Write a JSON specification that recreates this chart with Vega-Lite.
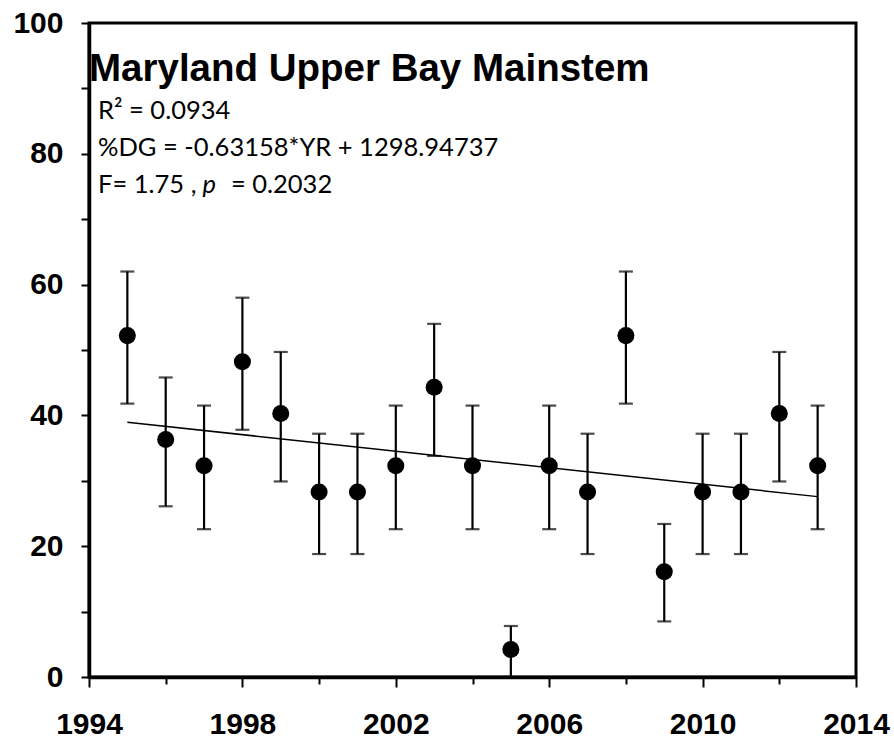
{
  "$schema": "https://vega.github.io/schema/vega-lite/v6.json",
  "width": 767,
  "height": 654,
  "autosize": "none",
  "padding": {"left": 89, "top": 23, "right": 38, "bottom": 61},
  "background": "white",
  "config": {
    "view": {"stroke": "black", "strokeWidth": 3},
    "axis": {
      "grid": false,
      "domainColor": "black",
      "domainWidth": 3.5,
      "tickColor": "black",
      "tickWidth": 2,
      "labelFont": "Liberation Sans",
      "labelFontWeight": "bold",
      "labelFontSize": 30,
      "labelColor": "black",
      "title": null
    }
  },
  "datasets": {
    "pts": [
      {"year": 1995, "val": 52.2, "hi": 62.0, "lo": 41.8},
      {"year": 1996, "val": 36.3, "hi": 45.8, "lo": 26.1},
      {"year": 1997, "val": 32.3, "hi": 41.5, "lo": 22.6},
      {"year": 1998, "val": 48.2, "hi": 58.0, "lo": 37.8},
      {"year": 1999, "val": 40.3, "hi": 49.7, "lo": 29.9},
      {"year": 2000, "val": 28.3, "hi": 37.2, "lo": 18.8},
      {"year": 2001, "val": 28.3, "hi": 37.2, "lo": 18.8},
      {"year": 2002, "val": 32.3, "hi": 41.5, "lo": 22.6},
      {"year": 2003, "val": 44.3, "hi": 54.0, "lo": 33.8},
      {"year": 2004, "val": 32.3, "hi": 41.5, "lo": 22.6},
      {"year": 2005, "val": 4.2, "hi": 7.8, "lo": 0},
      {"year": 2006, "val": 32.3, "hi": 41.5, "lo": 22.6},
      {"year": 2007, "val": 28.3, "hi": 37.2, "lo": 18.8},
      {"year": 2008, "val": 52.2, "hi": 62.0, "lo": 41.8},
      {"year": 2009, "val": 16.1, "hi": 23.4, "lo": 8.5},
      {"year": 2010, "val": 28.3, "hi": 37.2, "lo": 18.8},
      {"year": 2011, "val": 28.3, "hi": 37.2, "lo": 18.8},
      {"year": 2012, "val": 40.3, "hi": 49.7, "lo": 29.9},
      {"year": 2013, "val": 32.3, "hi": 41.5, "lo": 22.6}
    ],
    "fit": [
      {"year": 1995, "fit": 38.95},
      {"year": 2013, "fit": 27.58}
    ],
    "one": [{}]
  },
  "layer": [
    {
      "data": {"name": "pts"},
      "mark": {"type": "errorbar", "color": "black", "thickness": 2.2, "ticks": {"size": 14, "thickness": 2.2, "color": "black"}},
      "encoding": {
        "x": {
          "field": "year", "type": "quantitative", "title": null,
          "scale": {"domain": [1994, 2014], "nice": false, "zero": false},
          "axis": {
            "title": null,
            "values": [1994,1995,1996,1997,1998,1999,2000,2001,2002,2003,2004,2005,2006,2007,2008,2009,2010,2011,2012,2013,2014],
            "format": "d",
            "labelExpr": "datum.value % 4 == 2 ? datum.label : ''",
            "tickSize": {"condition": {"test": "datum.value % 4 == 2", "value": 10}, "value": 7},
            "labelPadding": 22,
            "labelFlush": false,
            "labelOverlap": false
          }
        },
        "y": {
          "field": "hi", "type": "quantitative", "title": null,
          "scale": {"domain": [0, 100], "nice": false},
          "axis": {
            "title": null,
            "values": [0,10,20,30,40,50,60,70,80,90,100],
            "labelExpr": "datum.value % 20 == 0 ? datum.label : ''",
            "tickSize": 8,
            "labelPadding": 18,
            "labelOverlap": false
          }
        },
        "y2": {"field": "lo"}
      }
    },
    {
      "data": {"name": "fit"},
      "mark": {"type": "line", "color": "black", "strokeWidth": 1.5},
      "encoding": {
        "x": {"field": "year", "type": "quantitative", "title": null},
        "y": {"field": "fit", "type": "quantitative", "title": null}
      }
    },
    {
      "data": {"name": "pts"},
      "mark": {"type": "circle", "color": "black", "opacity": 1, "size": 290},
      "encoding": {
        "x": {"field": "year", "type": "quantitative", "title": null},
        "y": {"field": "val", "type": "quantitative", "title": null}
      }
    },
    {
      "data": {"name": "one"},
      "mark": {"type": "text", "text": "Maryland Upper Bay Mainstem", "font": "Liberation Sans", "fontWeight": "bold", "fontSize": 38.5, "align": "left", "baseline": "alphabetic", "color": "black"},
      "encoding": {"x": {"datum": 1994, "title": null}, "y": {"datum": 91.1, "title": null}}
    },
    {
      "data": {"name": "one"},
      "mark": {"type": "text", "text": "R² = 0.0934", "font": "Lato", "fontSize": 25.5, "align": "left", "baseline": "alphabetic", "color": "black"},
      "encoding": {"x": {"datum": 1994.235, "title": null}, "y": {"datum": 85.3, "title": null}}
    },
    {
      "data": {"name": "one"},
      "mark": {"type": "text", "text": "%DG = -0.63158*YR + 1298.94737", "font": "Lato", "fontSize": 25.5, "align": "left", "baseline": "alphabetic", "color": "black"},
      "encoding": {"x": {"datum": 1994.235, "title": null}, "y": {"datum": 79.65, "title": null}}
    },
    {
      "data": {"name": "one"},
      "mark": {"type": "text", "text": "F= 1.75 ,", "font": "Lato", "fontSize": 25.5, "align": "left", "baseline": "alphabetic", "color": "black"},
      "encoding": {"x": {"datum": 1994.235, "title": null}, "y": {"datum": 73.95, "title": null}}
    },
    {
      "data": {"name": "one"},
      "mark": {"type": "text", "text": "p", "font": "Lato", "fontStyle": "italic", "fontSize": 25.5, "align": "left", "baseline": "alphabetic", "color": "black"},
      "encoding": {"x": {"datum": 1996.96, "title": null}, "y": {"datum": 73.95, "title": null}}
    },
    {
      "data": {"name": "one"},
      "mark": {"type": "text", "text": "=  0.2032", "font": "Lato", "fontSize": 25.5, "align": "left", "baseline": "alphabetic", "color": "black"},
      "encoding": {"x": {"datum": 1997.7, "title": null}, "y": {"datum": 73.95, "title": null}}
    }
  ]
}
